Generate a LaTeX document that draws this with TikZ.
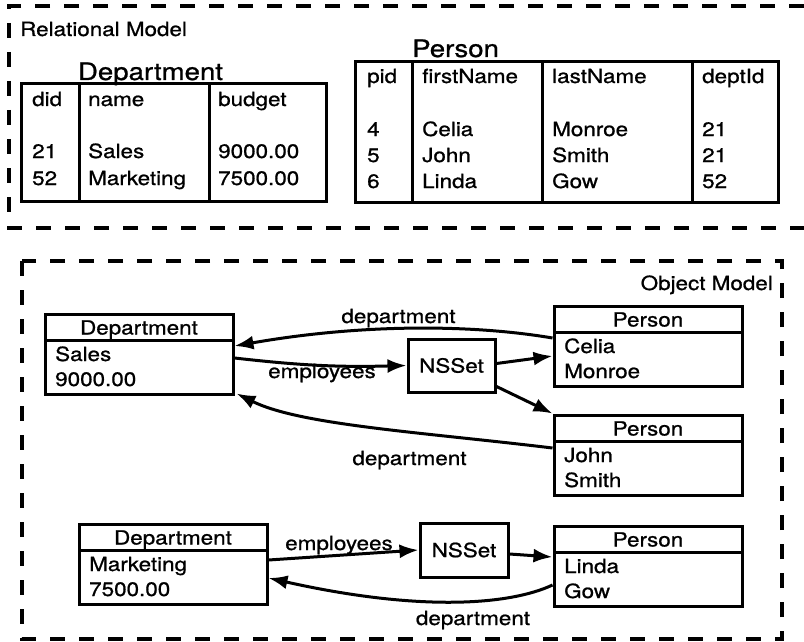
\documentclass[tikz,border=0pt]{standalone}
\usepackage{fontspec}
\setmainfont{TeX Gyre Heros}[FakeStretch=1.15,FakeBold=0.9]
\usetikzlibrary{arrows.meta,fit}

\begin{document}
\begin{tikzpicture}[x=1pt,y=-1pt,
  txt/.style={font=\fontsize{19.5}{22}\selectfont,inner sep=0pt},
  ttl/.style={font=\fontsize{24}{28}\selectfont,inner sep=0pt},
  tbl/.style={draw,line width=3pt},
  obox/.style={draw,line width=3pt,inner sep=0pt,fit={#1}},
  frame/.style={line width=3.2pt,dash pattern=on 15pt off 14pt},
  ref/.style={line width=3pt,-{Latex[length=19pt,width=14pt]}}]
\useasboundingbox (0,0) rectangle (804,642);
% relational model
\draw[frame] (804,6) -- (9,6) -- (9,228) -- (804,228);
\node[txt,anchor=base west] (relmodel) at (20,36) {Relational Model};
\node[ttl,anchor=base] (rdept) at (150.5,80) {Department};
\node[ttl,anchor=base west] (rperson) at (412,57) {Person};
\draw[tbl] (21,84) rectangle (326,201) (79,84) -- (79,201) (209,84) -- (209,201);
\draw[tbl] (355,62) rectangle (778,202) (412,62) -- (412,202)
   (542,62) -- (542,202) (692,62) -- (692,202);
\foreach \x/\y/\t in %
{32/106/did,88/106/name,218/106/budget,32/158/21,88/158/Sales,218/158/9000.00,%
 32/185/52,88/185/Marketing,218/185/7500.00} {
   \node[txt,anchor=base west] (rd-\x-\y) at (\x,\y) {\t};
}
\foreach \x/\y/\t in %
{367/83/pid,422/83/firstName,552/83/lastName,702/83/deptId,%
 367/136/4,422/136/Celia,552/136/Monroe,702/136/21,%
 367/162/5,422/162/John,552/162/Smith,702/162/21,%
 367/188/6,422/188/Linda,552/188/Gow,702/188/52} {
   \node[txt,anchor=base west] (rp-\x-\y) at (\x,\y) {\t};
}
% object model
\draw[frame] (22,261) rectangle (782,639);
\node[txt,anchor=base east] (objmodel) at (773,290) {Object Model};
\foreach \n/\l/\t/\h/\a/\b in %
{dsales/45/314/Department/Sales/9000.00,pcelia/554/306/Person/Celia/Monroe,%
 pjohn/554/415/Person/John/Smith,dmkt/79/524/Department/Marketing/7500.00,%
 plinda/554/526/Person/Linda/Gow} {
   \node[obox={(\l,\t) (\l+188,\t+80)}] (\n) {};
   \draw[line width=3pt] (\l,\t+26) -- (\l+188,\t+26);
   \node[txt,anchor=base] (\n-h) at (\l+94,\t+20.5) {\h};
   \node[txt,anchor=base west] (\n-a) at (\l+10,\t+47) {\a};
   \node[txt,anchor=base west] (\n-b) at (\l+10,\t+72) {\b};
}
\node[txt,tbl,minimum width=87pt,minimum height=53pt] (set1) at (451.5,365.5) {NSSet};
\node[txt,tbl,minimum width=88pt,minimum height=54pt] (set2) at (464,550) {NSSet};
\draw[ref] ([yshift=8pt]pcelia.west) .. controls (470,324) and (360,324) .. ([yshift=8pt]dsales.east);
\draw[ref] ([yshift=-4pt]dsales.east) to[bend right=4] (set1.west);
\draw[ref] ([yshift=2pt]set1.east) -- ([yshift=-10pt]pcelia.west);
\draw[ref] ([yshift=7pt]set1.south east) -- (pjohn.north west);
\draw[ref] ([yshift=7pt]pjohn.west) .. controls (420,432) and (300,425) .. ([shift={(2pt,2pt)}]dsales.south east);
\draw[ref] ([yshift=4pt]dmkt.east) -- (set2.west);
\draw[ref] ([yshift=-4pt]set2.east) -- ([yshift=9pt]plinda.west);
\draw[ref] ([yshift=-19pt]plinda.west) .. controls (510,605) and (420,612) .. ([yshift=-14pt]dmkt.east);
\node[txt,anchor=base] (dept1) at (398.5,323) {department};
\node[txt,anchor=base] (emp1) at (322,378) {employees};
\node[txt,anchor=base] (dept2) at (409.5,465) {department};
\node[txt,anchor=base] (emp2) at (339,550) {employees};
\node[txt,anchor=base] (dept3) at (473,625) {department};
\end{tikzpicture}
\end{document}
